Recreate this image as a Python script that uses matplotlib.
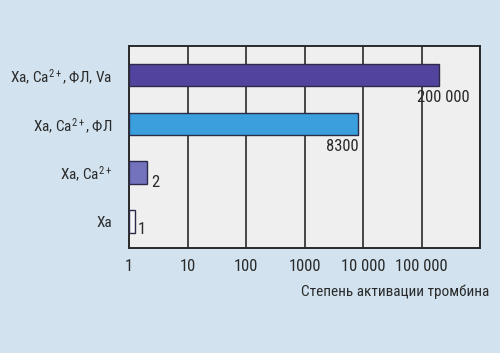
import matplotlib
matplotlib.use("Agg")
import matplotlib.pyplot as plt
import numpy as np
from matplotlib import font_manager

names = {f.name for f in font_manager.fontManager.ttflist}
FONT = None
for cand in ["Roboto Condensed", "Liberation Sans Narrow", "Open Sans Condensed", "PT Sans Narrow"]:
    if cand in names:
        FONT = cand
        break
if FONT is None:
    FONT = "DejaVu Sans"
    plt.rcParams['font.stretch'] = 'condensed'

plt.rcParams['font.family'] = [FONT, 'DejaVu Sans']
plt.rcParams['mathtext.fontset'] = 'custom'
plt.rcParams['mathtext.rm'] = FONT
plt.rcParams['mathtext.it'] = FONT

# Data
categories = ["Xa", r"Xa, Ca$^{\mathregular{2+}}$", r"Xa, Ca$^{\mathregular{2+}}$, ФЛ", r"Xa, Ca$^{\mathregular{2+}}$, ФЛ, Va"]
values = [1, 2, 8300, 200000]
value_labels = ["1", "2", "8300", "200 000"]
tick_values = [1, 10, 100, 1000, 10000, 100000, 1000000]
tick_labels = ["1", "10", "100", "1000", "10 000", "100 000", ""]
xlabel = "Степень активации тромбина"

colors = ["#f4f3f6", "#7373bd", "#3a9fdc", "#52449e"]
TXT = "#2a2a2a"

fig = plt.figure(figsize=(5.0, 3.53), dpi=100)
fig.patch.set_facecolor("#d2e3ef")
ax = fig.add_axes([0.258, 0.2975, 0.702, 0.572])
ax.set_facecolor("#efeff0")

ax.set_xscale("log")
ax.set_xlim(1, 1e6)
ax.set_ylim(-0.543, 3.594)

y = np.arange(len(categories))
draw_vals = np.maximum(np.array(values, dtype=float), 1.25)
ax.barh(y, draw_vals - 1, left=1, height=0.46, color=colors,
        edgecolor="#2b2a48", linewidth=1.0, zorder=3)

ax.set_xticks(tick_values)
ax.set_xticklabels(tick_labels)
ax.xaxis.set_minor_locator(matplotlib.ticker.NullLocator())
ax.tick_params(axis="x", length=0, pad=8, labelsize=12, labelcolor=TXT)
ax.set_yticks(y)
ax.set_yticklabels(categories)
ax.tick_params(axis="y", length=0, pad=12, labelsize=11, labelcolor=TXT)

ax.grid(axis="x", color="#2a2a2a", linewidth=1.2, zorder=1)
for s in ax.spines.values():
    s.set_color("#2a2a2a")
    s.set_linewidth(1.4)

# value labels
ax.annotate(value_labels[3], xy=(draw_vals[3], y[3] - 0.23), xytext=(-16, -3),
            textcoords="offset points", ha="left", va="top", fontsize=12, color=TXT)
ax.annotate(value_labels[2], xy=(draw_vals[2], y[2] - 0.23), xytext=(0, -3),
            textcoords="offset points", ha="right", va="top", fontsize=12, color=TXT)
ax.annotate(value_labels[1], xy=(draw_vals[1], y[1] - 0.2), xytext=(3, 0),
            textcoords="offset points", ha="left", va="center", fontsize=12, color=TXT)
ax.annotate(value_labels[0], xy=(draw_vals[0], y[0] - 0.17), xytext=(2, 0),
            textcoords="offset points", ha="left", va="center", fontsize=12, color=TXT)

fig.text(489 / 500, 1 - 292 / 353, xlabel, ha="right", va="center",
         fontsize=11, color=TXT)

fig.savefig("out.png", dpi=100, facecolor=fig.get_facecolor())
